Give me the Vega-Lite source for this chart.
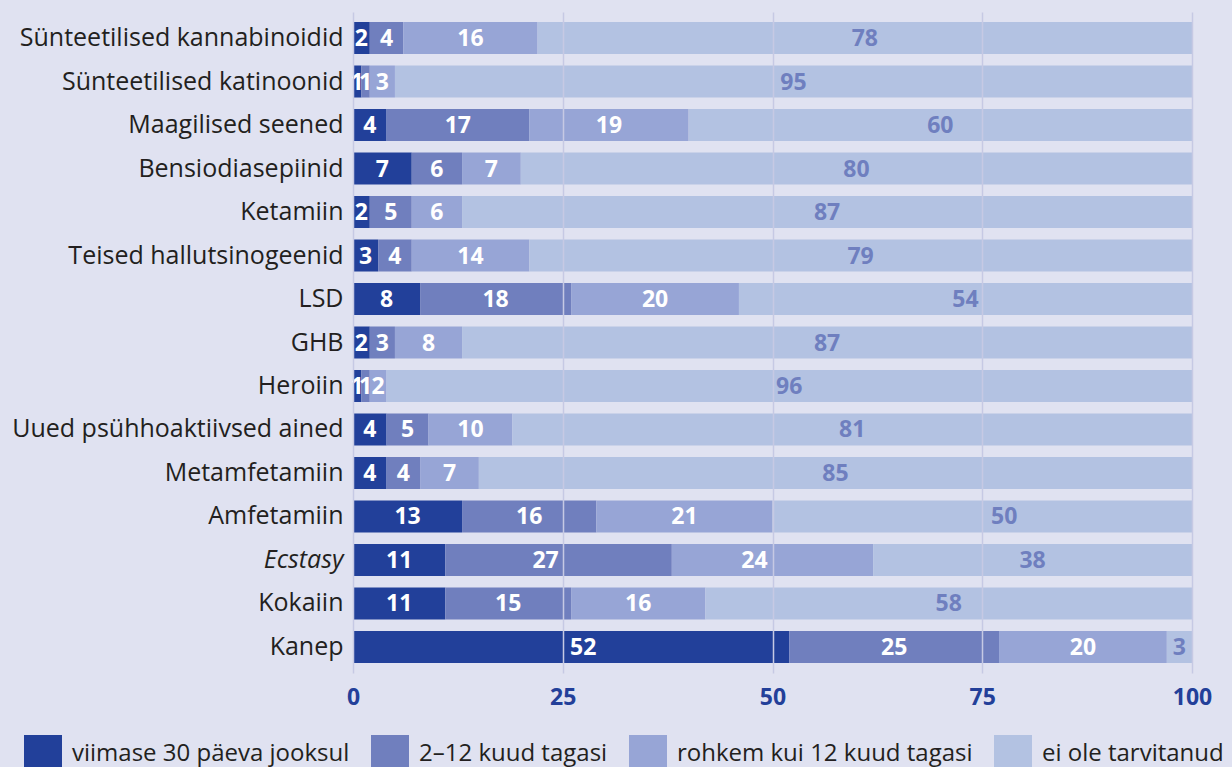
{
  "$schema": "https://vega.github.io/schema/vega-lite/v6.json",
  "autosize": {"type": "none"},
  "padding": {"left": 353, "top": 12, "right": 40, "bottom": 94},
  "width": 839,
  "height": 661,
  "background": "#e0e2f1",
  "config": {
    "view": {"stroke": null},
    "font": "Open Sans"
  },
  "data": {
    "values": [
      {"drug": "Sünteetilised kannabinoidid", "cat": "viimase 30 päeva jooksul", "k": 1, "value": 2},
      {"drug": "Sünteetilised kannabinoidid", "cat": "2–12 kuud tagasi", "k": 2, "value": 4},
      {"drug": "Sünteetilised kannabinoidid", "cat": "rohkem kui 12 kuud tagasi", "k": 3, "value": 16},
      {"drug": "Sünteetilised kannabinoidid", "cat": "ei ole tarvitanud", "k": 4, "value": 78},
      {"drug": "Sünteetilised katinoonid", "cat": "viimase 30 päeva jooksul", "k": 1, "value": 1},
      {"drug": "Sünteetilised katinoonid", "cat": "2–12 kuud tagasi", "k": 2, "value": 1},
      {"drug": "Sünteetilised katinoonid", "cat": "rohkem kui 12 kuud tagasi", "k": 3, "value": 3},
      {"drug": "Sünteetilised katinoonid", "cat": "ei ole tarvitanud", "k": 4, "value": 95},
      {"drug": "Maagilised seened", "cat": "viimase 30 päeva jooksul", "k": 1, "value": 4},
      {"drug": "Maagilised seened", "cat": "2–12 kuud tagasi", "k": 2, "value": 17},
      {"drug": "Maagilised seened", "cat": "rohkem kui 12 kuud tagasi", "k": 3, "value": 19},
      {"drug": "Maagilised seened", "cat": "ei ole tarvitanud", "k": 4, "value": 60},
      {"drug": "Bensiodiasepiinid", "cat": "viimase 30 päeva jooksul", "k": 1, "value": 7},
      {"drug": "Bensiodiasepiinid", "cat": "2–12 kuud tagasi", "k": 2, "value": 6},
      {"drug": "Bensiodiasepiinid", "cat": "rohkem kui 12 kuud tagasi", "k": 3, "value": 7},
      {"drug": "Bensiodiasepiinid", "cat": "ei ole tarvitanud", "k": 4, "value": 80},
      {"drug": "Ketamiin", "cat": "viimase 30 päeva jooksul", "k": 1, "value": 2},
      {"drug": "Ketamiin", "cat": "2–12 kuud tagasi", "k": 2, "value": 5},
      {"drug": "Ketamiin", "cat": "rohkem kui 12 kuud tagasi", "k": 3, "value": 6},
      {"drug": "Ketamiin", "cat": "ei ole tarvitanud", "k": 4, "value": 87},
      {"drug": "Teised hallutsinogeenid", "cat": "viimase 30 päeva jooksul", "k": 1, "value": 3},
      {"drug": "Teised hallutsinogeenid", "cat": "2–12 kuud tagasi", "k": 2, "value": 4},
      {"drug": "Teised hallutsinogeenid", "cat": "rohkem kui 12 kuud tagasi", "k": 3, "value": 14},
      {"drug": "Teised hallutsinogeenid", "cat": "ei ole tarvitanud", "k": 4, "value": 79},
      {"drug": "LSD", "cat": "viimase 30 päeva jooksul", "k": 1, "value": 8},
      {"drug": "LSD", "cat": "2–12 kuud tagasi", "k": 2, "value": 18},
      {"drug": "LSD", "cat": "rohkem kui 12 kuud tagasi", "k": 3, "value": 20},
      {"drug": "LSD", "cat": "ei ole tarvitanud", "k": 4, "value": 54},
      {"drug": "GHB", "cat": "viimase 30 päeva jooksul", "k": 1, "value": 2},
      {"drug": "GHB", "cat": "2–12 kuud tagasi", "k": 2, "value": 3},
      {"drug": "GHB", "cat": "rohkem kui 12 kuud tagasi", "k": 3, "value": 8},
      {"drug": "GHB", "cat": "ei ole tarvitanud", "k": 4, "value": 87},
      {"drug": "Heroiin", "cat": "viimase 30 päeva jooksul", "k": 1, "value": 1},
      {"drug": "Heroiin", "cat": "2–12 kuud tagasi", "k": 2, "value": 1},
      {"drug": "Heroiin", "cat": "rohkem kui 12 kuud tagasi", "k": 3, "value": 2},
      {"drug": "Heroiin", "cat": "ei ole tarvitanud", "k": 4, "value": 96},
      {"drug": "Uued psühhoaktiivsed ained", "cat": "viimase 30 päeva jooksul", "k": 1, "value": 4},
      {"drug": "Uued psühhoaktiivsed ained", "cat": "2–12 kuud tagasi", "k": 2, "value": 5},
      {"drug": "Uued psühhoaktiivsed ained", "cat": "rohkem kui 12 kuud tagasi", "k": 3, "value": 10},
      {"drug": "Uued psühhoaktiivsed ained", "cat": "ei ole tarvitanud", "k": 4, "value": 81},
      {"drug": "Metamfetamiin", "cat": "viimase 30 päeva jooksul", "k": 1, "value": 4},
      {"drug": "Metamfetamiin", "cat": "2–12 kuud tagasi", "k": 2, "value": 4},
      {"drug": "Metamfetamiin", "cat": "rohkem kui 12 kuud tagasi", "k": 3, "value": 7},
      {"drug": "Metamfetamiin", "cat": "ei ole tarvitanud", "k": 4, "value": 85},
      {"drug": "Amfetamiin", "cat": "viimase 30 päeva jooksul", "k": 1, "value": 13},
      {"drug": "Amfetamiin", "cat": "2–12 kuud tagasi", "k": 2, "value": 16},
      {"drug": "Amfetamiin", "cat": "rohkem kui 12 kuud tagasi", "k": 3, "value": 21},
      {"drug": "Amfetamiin", "cat": "ei ole tarvitanud", "k": 4, "value": 50},
      {"drug": "Ecstasy", "cat": "viimase 30 päeva jooksul", "k": 1, "value": 11},
      {"drug": "Ecstasy", "cat": "2–12 kuud tagasi", "k": 2, "value": 27},
      {"drug": "Ecstasy", "cat": "rohkem kui 12 kuud tagasi", "k": 3, "value": 24},
      {"drug": "Ecstasy", "cat": "ei ole tarvitanud", "k": 4, "value": 38},
      {"drug": "Kokaiin", "cat": "viimase 30 päeva jooksul", "k": 1, "value": 11},
      {"drug": "Kokaiin", "cat": "2–12 kuud tagasi", "k": 2, "value": 15},
      {"drug": "Kokaiin", "cat": "rohkem kui 12 kuud tagasi", "k": 3, "value": 16},
      {"drug": "Kokaiin", "cat": "ei ole tarvitanud", "k": 4, "value": 58},
      {"drug": "Kanep", "cat": "viimase 30 päeva jooksul", "k": 1, "value": 52},
      {"drug": "Kanep", "cat": "2–12 kuud tagasi", "k": 2, "value": 25},
      {"drug": "Kanep", "cat": "rohkem kui 12 kuud tagasi", "k": 3, "value": 20},
      {"drug": "Kanep", "cat": "ei ole tarvitanud", "k": 4, "value": 3}
    ]
  },
  "transform": [
    {"stack": "value", "groupby": ["drug"], "sort": [{"field": "k", "order": "ascending"}], "as": ["x0", "x1"]},
    {"calculate": "(datum.x0 + datum.x1) / 2", "as": "mid"}
  ],
  "encoding": {
    "y": {
      "field": "drug",
      "type": "nominal",
      "sort": null,
      "title": null,
      "scale": {"paddingInner": 0.264, "paddingOuter": 0.23},
      "axis": {
        "domain": false,
        "ticks": false,
        "labelFontSize": 25,
        "labelColor": "#231f20",
        "labelPadding": 10,
        "labelLimit": 400,
        "labelFontStyle": {"condition": {"test": "datum.value === 'Ecstasy'", "value": "italic"}, "value": "normal"}
      }
    }
  },
  "layer": [
    {
      "mark": {"type": "bar"},
      "encoding": {
        "x": {
          "field": "x0",
          "type": "quantitative",
          "scale": {"domain": [0, 100], "nice": false},
          "title": null,
          "axis": {
            "values": [0, 25, 50, 75, 100],
            "domain": false,
            "ticks": false,
            "zindex": 1,
            "gridColor": "#c6c9e4",
            "gridWidth": 1.5,
            "labelFontSize": 23,
            "labelFontWeight": "bold",
            "labelColor": "#233f99",
            "labelPadding": 13,
            "labelFlush": false
          }
        },
        "x2": {"field": "x1"},
        "color": {
          "field": "cat",
          "type": "nominal",
          "sort": ["viimase 30 päeva jooksul", "2–12 kuud tagasi", "rohkem kui 12 kuud tagasi", "ei ole tarvitanud"],
          "scale": {
            "domain": ["viimase 30 päeva jooksul", "2–12 kuud tagasi", "rohkem kui 12 kuud tagasi", "ei ole tarvitanud"],
            "range": ["#22409a", "#707fbe", "#97a5d6", "#b3c2e2"]
          },
          "legend": {
            "title": null,
            "orient": "none",
            "legendX": -329,
            "legendY": 723,
            "direction": "horizontal",
            "columns": 4,
            "symbolType": "square",
            "symbolSize": 1444,
            "symbolStrokeWidth": 0,
            "symbolOpacity": 1,
            "labelFontSize": 24,
            "labelColor": "#231f20",
            "labelOffset": 10,
            "columnPadding": 21,
            "labelLimit": 400
          }
        }
      }
    },
    {
      "mark": {
        "type": "text",
        "align": "center",
        "baseline": "middle",
        "fontSize": 23,
        "fontWeight": "bold",
        "dy": 1,
        "dx": {"expr": "(datum.drug === 'Kanep' && datum.k === 1) ? 12 : (datum.drug === 'Ecstasy' && datum.k === 2) ? -13 : (datum.drug === 'Ecstasy' && datum.k === 3) ? -18 : (datum.drug === 'Amfetamiin' && datum.k === 4) ? 22 : 0"}
      },
      "encoding": {
        "x": {"field": "mid", "type": "quantitative"},
        "text": {"field": "value", "type": "quantitative"},
        "color": {"condition": {"test": "datum.k === 4", "value": "#6f7fbf"}, "value": "#ffffff"}
      }
    }
  ]
}
